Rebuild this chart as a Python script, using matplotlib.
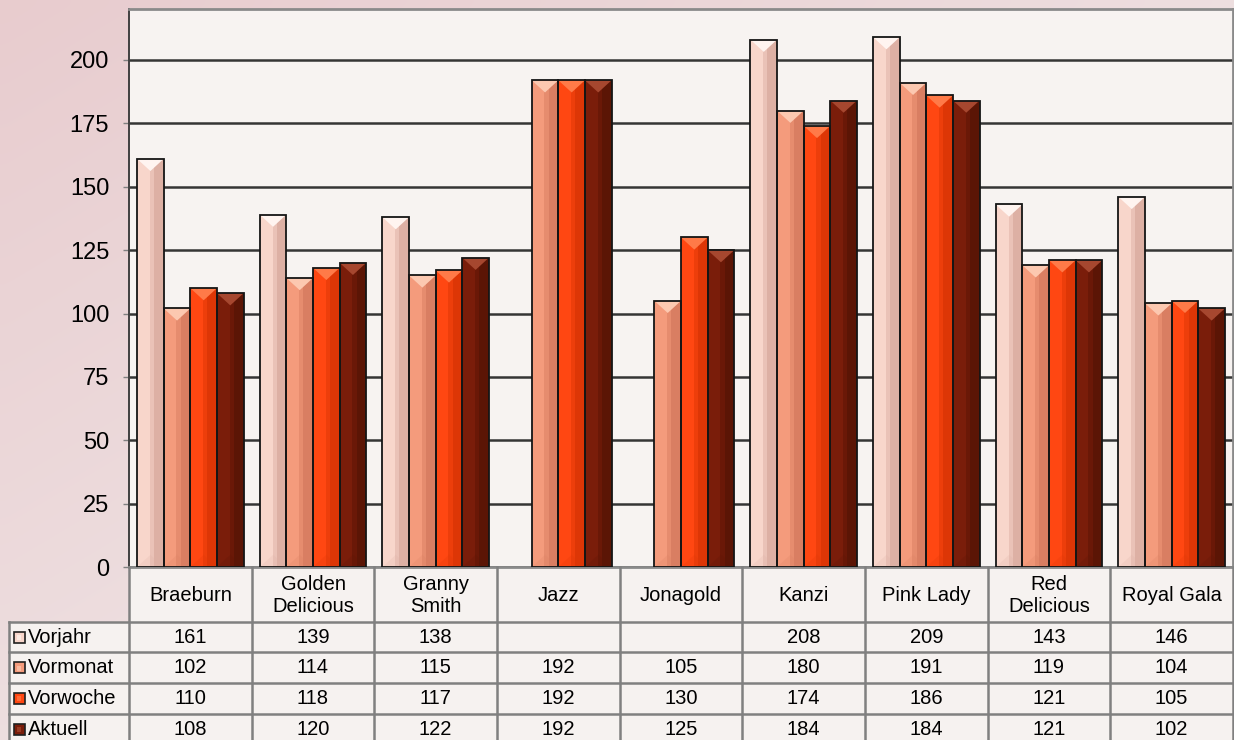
import numpy as np
import matplotlib
matplotlib.use("Agg")
import matplotlib.pyplot as plt
from matplotlib.transforms import blended_transform_factory
from matplotlib.patches import Rectangle, Polygon
from matplotlib.lines import Line2D

# ---------------- data ----------------
categories = ['Braeburn', 'Golden\nDelicious', 'Granny\nSmith', 'Jazz', 'Jonagold',
              'Kanzi', 'Pink Lady', 'Red\nDelicious', 'Royal Gala']
series_names = ['Vorjahr', 'Vormonat', 'Vorwoche', 'Aktuell']
vorjahr = [161, 139, 138, None, None, 208, 209, 143, 146]
vormonat = [102, 114, 115, 192, 105, 180, 191, 119, 104]
vorwoche = [110, 118, 117, 192, 130, 174, 186, 121, 105]
aktuell = [108, 120, 122, 192, 125, 184, 184, 121, 102]
y_ticks = [0, 25, 50, 75, 100, 125, 150, 175, 200]

series = [vorjahr, vormonat, vorwoche, aktuell]
base_col = ['#F8D6CB', '#F49B7C', '#FF4712', '#7A1D0A']
dark_col = ['#DDB0A4', '#D97E62', '#DD3606', '#5B1505']
light_col = ['#FFF4F0', '#FCC8B0', '#FF7A48', '#A6472F']

plt.rcParams['font.family'] = ['Liberation Sans', 'DejaVu Sans']

W, H = 1234, 740
fig = plt.figure(figsize=(W / 100, H / 100), dpi=100)

# ---------------- background (soft pink wash) ----------------
bg = fig.add_axes([0, 0, 1, 1])
gx, gy = np.meshgrid(np.linspace(0, 1, 124), np.linspace(0, 1, 74))
c0 = np.array([0.91, 0.80, 0.81])
c1 = np.array([0.95, 0.93, 0.93])
t = np.clip(0.55 * gx + 0.55 * gy, 0, 1)[..., None]
img = c0 * (1 - t) + c1 * t
bg.imshow(img, aspect='auto', extent=[0, 1, 1, 0], interpolation='bicubic')
bg.axis('off')

# ---------------- main axes ----------------
ax_left, ax_right = 129, 1233
ax_top, ax_bot = 9.3, 567
ax = fig.add_axes([ax_left / W, 1 - ax_bot / H, (ax_right - ax_left) / W, (ax_bot - ax_top) / H])
ax.set_zorder(2)
ax.set_facecolor('#F7F3F1')
ax.set_xlim(-0.5, len(categories) - 0.5)
ax.set_ylim(0, 220)
ax.set_yticks(y_ticks)
ax.set_yticklabels([str(v) for v in y_ticks], fontsize=17)
ax.set_xticks([])
ax.tick_params(axis='y', length=4.3, width=1, color='#808080', pad=10)
ax.yaxis.grid(True, color='#353535', lw=1.8, zorder=1)
ax.set_axisbelow(True)
ax.spines['left'].set_color('#404040')
ax.spines['left'].set_linewidth(1.4)
for s in ['top', 'right', 'bottom']:
    ax.spines[s].set_color('#8A8A8A')
    ax.spines[s].set_linewidth(2)

bw = 0.217
th = 4.8  # bevel triangle height (data units)
x = np.arange(len(categories))
for j, vals in enumerate(series):
    for i, v in enumerate(vals):
        if v is None:
            continue
        xc = x[i] + (j - 1.5) * bw
        ax.bar(xc, v, bw, color=base_col[j], zorder=3, lw=0)
        # dark right side
        sw = 0.36 * bw
        ax.bar(xc + bw / 2 - sw / 2, v, sw, color=dark_col[j], zorder=3.1, lw=0)
        sw2 = 0.16 * bw
        ax.bar(xc + bw / 2 - sw - sw2 / 2, v, sw2,
               color=dark_col[j], alpha=0.5, zorder=3.1, lw=0)
        # top bevel
        ax.add_patch(Polygon([(xc - bw / 2, v), (xc + bw / 2, v), (xc, v - th)],
                             closed=True, facecolor=light_col[j], lw=0, zorder=3.2))
        # bottom bevel
        ax.add_patch(Polygon([(xc - bw / 2, 0), (xc + bw / 2, 0), (xc, th)],
                             closed=True, facecolor=dark_col[j], alpha=0.2, lw=0, zorder=3.2))
        ax.bar(xc, v, bw, fill=False, edgecolor='#151515', lw=1.3, zorder=3.3)

# ---------------- data table ----------------
tr = blended_transform_factory(ax.transData, fig.transFigure)
trf = fig.transFigure


def yf(px):
    return 1 - px / H


n = len(categories)
hdr_top, hdr_bot = 567, 621.7
row_h = 30.7
lab_left_px = 9
lab_left = -0.5 - (ax_left - lab_left_px) / ((ax_right - ax_left) / n)
tab_bot = hdr_bot + 4 * row_h

cell_bg = '#F6F2F0'
ax.add_patch(Rectangle((-0.5, yf(hdr_bot)), n, yf(hdr_top) - yf(hdr_bot), transform=tr,
                       facecolor=cell_bg, lw=0, clip_on=False, zorder=1))
ax.add_patch(Rectangle((lab_left, yf(tab_bot)), (n - 0.5) - lab_left,
                       yf(hdr_bot) - yf(tab_bot), transform=tr,
                       facecolor=cell_bg, lw=0, clip_on=False, zorder=1))

lc = '#808080'
lw = 1.8
# horizontal lines
for k in range(5):
    yy = yf(hdr_bot + k * row_h)
    ax.add_line(Line2D([lab_left, n - 0.5], [yy, yy], transform=tr, color=lc, lw=lw,
                       clip_on=False, zorder=5))
# vertical lines
for b in np.arange(-0.5, n, 1.0):
    ax.add_line(Line2D([b, b], [yf(hdr_top), yf(tab_bot)], transform=tr, color=lc, lw=lw,
                       clip_on=False, zorder=5))
ax.add_line(Line2D([lab_left, lab_left], [yf(hdr_bot), yf(tab_bot)], transform=tr, color=lc,
                   lw=lw, clip_on=False, zorder=5))

# header text
for i, c in enumerate(categories):
    ax.text(i, yf((hdr_top + hdr_bot) / 2 + 1), c, transform=tr, ha='center', va='center',
            fontsize=14.5, linespacing=1.2, clip_on=False, zorder=6)

# rows
for r, (name, vals) in enumerate(zip(series_names, series)):
    yc = yf(hdr_bot + (r + 0.5) * row_h)
    for i, v in enumerate(vals):
        if v is None:
            continue
        ax.text(i, yc, str(v), transform=tr, ha='center', va='center', fontsize=14.5,
                clip_on=False, zorder=6)
    # legend swatch
    ax.add_patch(Rectangle((14 / W, yc - 5.5 / H), 11 / W, 11 / H, transform=trf,
                           facecolor=base_col[r], edgecolor='#202020', lw=1.2,
                           clip_on=False, zorder=6))
    ax.add_patch(Rectangle((16.5 / W, yc - 3 / H), 4 / W, 5 / H, transform=trf,
                           facecolor=light_col[r], lw=0, alpha=0.7,
                           clip_on=False, zorder=6.1))
    ax.text(28 / W, yc, name, transform=trf, ha='left', va='center', fontsize=14.5,
            clip_on=False, zorder=6)

fig.savefig('out.png', dpi=100)
